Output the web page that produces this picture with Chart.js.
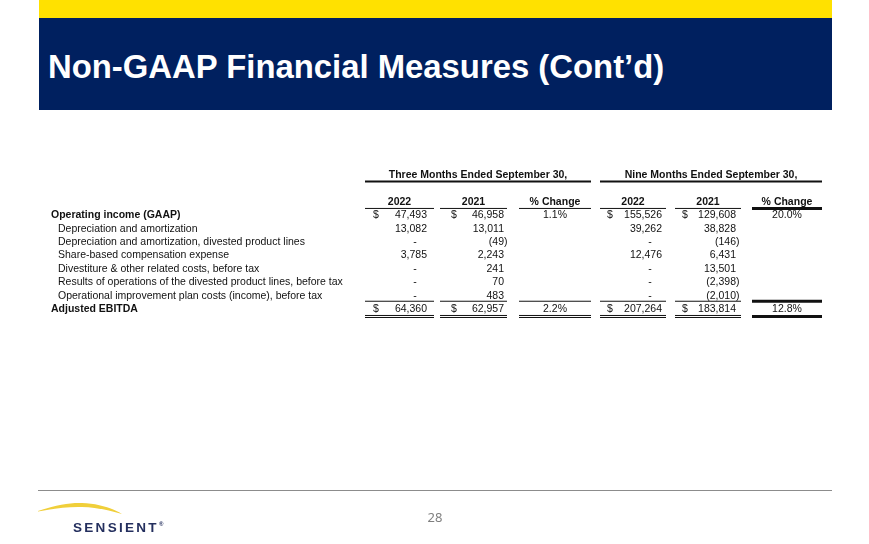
<!DOCTYPE html>
<html>
<head>
<meta charset="utf-8">
<script src="https://cdn.jsdelivr.net/npm/chart.js"></script>
<style>
    html, body { margin: 0; padding: 0; background: #fff; }
    .slide { position: relative; width: 869px; height: 544px; overflow: hidden; font-family: "Liberation Sans", Arial, sans-serif; }
    .topbar { position: absolute; left: 39px; top: 0; width: 793px; height: 18px; background: #ffe100; }
    .band { position: absolute; left: 39px; top: 18px; width: 793px; height: 92px; background: #00205f; }
    .title { position: absolute; left: 48px; top: 49px; font-size: 34px; line-height: 34px; font-weight: bold; color: #fff; white-space: nowrap; transform: scaleX(0.966); transform-origin: 0 0; }
    .footline { position: absolute; left: 38px; top: 490px; width: 794px; height: 1px; background: #8c8c8c; }
    .pagenum { position: absolute; left: 420px; width: 30px; top: 510px; text-align: center; font-family: "Noto Sans", sans-serif; font-size: 13px; line-height: 14px; color: #7f7f7f; }
    .logo { position: absolute; left: 73px; top: 518px; font-size: 13.5px; line-height: 13.5px; font-weight: bold; letter-spacing: 2.3px; color: #242f5e; }
    .logo sup { font-size: 6px; letter-spacing: 0; vertical-align: 6px; }
    .swoosh { position: absolute; left: 0; top: 0; }
    .tablebox { position: absolute; left: 0; top: 0; width: 869px; height: 544px; }
</style>
</head>
<body>
<div class="slide">
    <div class="topbar"></div>
    <div class="band"></div>
    <div class="title">Non-GAAP Financial Measures (Cont’d)</div>

    <div class="tablebox">
        <canvas id="ebitdaTable"></canvas>
    </div>

    <div class="footline"></div>
    <svg class="swoosh" width="869" height="544">
        <path d="M38,511 C55,505 70,502.5 82,503 C98,503.5 112,508 122,514 C110,510.5 97,507.5 82,507 C68,506.5 55,508.5 38,511.5 Z" fill="#f0cf3a"/>
    </svg>
    <div class="logo">SENSIENT<sup>®</sup></div>
    <div class="pagenum">28</div>
</div>

<script>
    // row labels and values (thousands of $), 0 shown as "-"
    var rowLabels = [
        'Operating income (GAAP)',
        'Depreciation and amortization',
        'Depreciation and amortization, divested product lines',
        'Share-based compensation expense',
        'Divestiture & other related costs, before tax',
        'Results of operations of the divested product lines, before tax',
        'Operational improvement plan costs (income), before tax',
        'Adjusted EBITDA'
    ];
    var q3_2022 = [47493, 13082, 0, 3785, 0, 0, 0, 64360];
    var q3_2021 = [46958, 13011, -49, 2243, 241, 70, 483, 62957];
    var q3_change = [1.1, null, null, null, null, null, null, 2.2];
    var ytd_2022 = [155526, 39262, 0, 12476, 0, 0, 0, 207264];
    var ytd_2021 = [129608, 38828, -146, 6431, 13501, -2398, -2010, 183814];
    var ytd_change = [20.0, null, null, null, null, null, null, 12.8];

    var groupHeaders = ['Three Months Ended September 30,', 'Nine Months Ended September 30,'];
    var colHeaders = ['2022', '2021', '% Change', '2022', '2021', '% Change'];
    var boldRows = [0, 7];

    // layout of the columns, in page pixels (x scale runs 0..869)
    var columns = [
        { values: q3_2022, pct: false, dollar: 373, right: 427, from: 365, to: 434 },
        { values: q3_2021, pct: false, dollar: 451, right: 504, from: 440, to: 507 },
        { values: q3_change, pct: true, from: 519, to: 591 },
        { values: ytd_2022, pct: false, dollar: 607, right: 662, from: 600, to: 666 },
        { values: ytd_2021, pct: false, dollar: 682, right: 736, from: 675, to: 741 },
        { values: ytd_change, pct: true, from: 752, to: 822, thick: true }
    ];
    var groups = [{ from: 365, to: 591 }, { from: 600, to: 822 }];

    var FONT = '"Liberation Sans", Arial, sans-serif';
    var INK = '#111';

    function fmt(v) {
        var s = Math.abs(v).toLocaleString('en-US');
        return v < 0 ? '(' + s + ')' : s;
    }

    var tablePlugin = {
        id: 'tableText',
        afterDatasetsDraw: function (chart) {
            var ctx = chart.ctx;
            var xs = chart.scales.x;
            var ys = chart.scales.y;
            ctx.save();
            ctx.fillStyle = INK;
            ctx.strokeStyle = INK;
            ctx.textBaseline = 'middle';

            // headers
            ctx.font = 'bold 10.5px ' + FONT;
            ctx.textAlign = 'center';
            groups.forEach(function (g, i) {
                var mid = xs.getPixelForValue((g.from + g.to) / 2);
                ctx.fillText(groupHeaders[i], mid, ys.getPixelForValue(-3));
                hline(ctx, xs, ys, g.from, g.to, -2.52, 2);
            });
            columns.forEach(function (c, i) {
                var mid = xs.getPixelForValue((c.from + c.to) / 2);
                ctx.fillText(colHeaders[i], mid, ys.getPixelForValue(-1));
                hline(ctx, xs, ys, c.from, c.to, -0.51, c.thick ? 3 : 1);
                // total rules
                hline(ctx, xs, ys, c.from, c.to, 6.4, c.thick ? 3 : 1);
                if (c.thick) {
                    hline(ctx, xs, ys, c.from, c.to, 7.54, 3);
                } else {
                    hline(ctx, xs, ys, c.from, c.to, 7.46, 1);
                    hline(ctx, xs, ys, c.from, c.to, 7.61, 1);
                }
            });

            // row labels
            var lblMeta = chart.getDatasetMeta(0);
            ctx.textAlign = 'left';
            lblMeta.data.forEach(function (el, i) {
                ctx.font = (boldRows.indexOf(i) >= 0 ? 'bold ' : '') + '10.5px ' + FONT;
                ctx.fillText(rowLabels[i], el.x, el.y);
            });

            // cells
            ctx.font = '10.5px ' + FONT;
            var parenW = ctx.measureText(')').width;
            columns.forEach(function (c, ci) {
                var meta = chart.getDatasetMeta(ci + 1);
                meta.data.forEach(function (el, i) {
                    var v = c.values[i];
                    if (v === null) return;
                    if (c.pct) {
                        ctx.textAlign = 'center';
                        ctx.fillText(v.toFixed(1) + '%', el.x, el.y);
                        return;
                    }
                    if (boldRows.indexOf(i) >= 0) {
                        ctx.textAlign = 'left';
                        ctx.fillText('$', xs.getPixelForValue(c.dollar), el.y);
                    }
                    if (v === 0) {
                        ctx.textAlign = 'center';
                        ctx.fillText('-', el.x - 12, el.y);
                    } else {
                        ctx.textAlign = 'right';
                        ctx.fillText(fmt(v), v < 0 ? el.x + parenW : el.x, el.y);
                    }
                });
            });
            ctx.restore();
        }
    };

    function hline(ctx, xs, ys, from, to, row, w) {
        var y = ys.getPixelForValue(row);
        ctx.lineWidth = w;
        ctx.beginPath();
        ctx.moveTo(xs.getPixelForValue(from), y);
        ctx.lineTo(xs.getPixelForValue(to), y);
        ctx.stroke();
    }

    function makeTable() {
        var datasets = [{
            data: rowLabels.map(function (l, i) {
                return { x: boldRows.indexOf(i) >= 0 ? 51 : 58, y: i };
            }),
            pointRadius: 0
        }];
        columns.forEach(function (c) {
            var x = c.pct ? (c.from + c.to) / 2 : c.right;
            datasets.push({
                data: c.values.map(function (v, i) { return { x: x, y: i }; }),
                pointRadius: 0
            });
        });

        var canvas = document.getElementById('ebitdaTable').getContext('2d');
        new Chart(canvas, {
            type: 'scatter',
            data: { datasets: datasets },
            options: {
                responsive: true,
                maintainAspectRatio: false,
                animation: false,
                events: [],
                layout: { padding: { top: 175, bottom: 234.7, left: 0, right: 0 } },
                plugins: { legend: { display: false }, tooltip: { enabled: false } },
                scales: {
                    x: { type: 'linear', display: false, min: 0, max: 869 },
                    y: { type: 'linear', display: false, min: -3, max: 7, reverse: true }
                }
            },
            plugins: [tablePlugin]
        });
    }

    makeTable();
</script>
</body>
</html>
